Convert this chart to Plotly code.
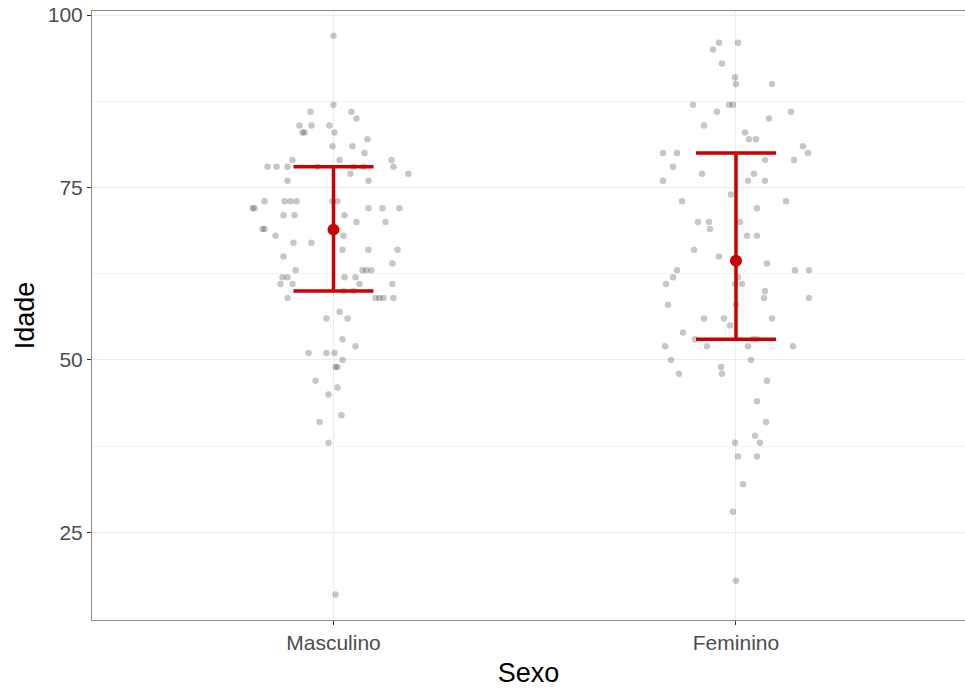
import plotly.graph_objects as go

# ---- data ----
categories = ["Masculino", "Feminino"]

masc_age = [97, 87, 86, 86, 85, 84, 84, 84, 83, 83, 83, 82, 81, 81, 80, 79, 79, 79,
            78, 78, 78, 78, 78, 78, 78, 77, 77, 76, 76,
            73, 73, 73, 73, 73, 73, 72, 72, 72, 72, 72, 71, 71, 71, 70, 70, 69, 69,
            68, 68, 67, 67, 66, 66, 66, 65, 64, 63, 63, 63, 63, 62, 62, 62, 62,
            61, 61, 61, 61, 60, 60, 59, 59, 59, 59, 59, 57, 56, 56, 53, 52,
            51, 51, 51, 50, 49, 49, 47, 46, 45, 42, 41, 38, 16]
# horizontal jitter, in pixels of the original picture
masc_jit_px = [0, 0, -23, 18, 23, -34, -22, -4, -31, -29, 1, 34, -1, 19, 31, -41, 6, 58,
               -66, -57, -46, -16, 20, 30, 60, 17, 75, -46, 35,
               -69, -49, -43, -37, -1, 4, -81, -79, 35, 49, 66, -50, -39, 11, 23, 52, -71, -69,
               -58, 10, -40, -22, 9, 35, 64, -50, 59, -38, 29, 33, 38, -51, -46, 11, 22,
               -53, -41, 26, 59, 10, 20, -46, 42, 46, 50, 60, 6, -7, 14, 9, 22,
               -25, -7, 1, 9, 2, 4, -18, 4, -5, 8, -14, -5, 2]

fem_age = [96, 96, 95, 93, 91, 90, 90, 87, 87, 87, 86, 86, 85, 84, 83, 82, 82, 81,
           80, 80, 80, 79, 79, 78, 77, 77, 76, 76, 76, 74, 73, 73, 72, 70, 70, 70, 69,
           68, 68, 66, 65, 64, 63, 63, 63, 62, 62, 61, 61, 61, 60, 59, 59, 58, 58,
           56, 56, 56, 55, 54, 53, 53, 53, 52, 52, 52, 52, 50, 50, 49, 48, 48, 47,
           44, 41, 39, 38, 38, 36, 36, 32, 28, 18]
fem_jit_px = [-17, 2, -23, -14, -1, 0, 36, -43, -7, -3, -19, 55, 33, -32, 9, 13, 20, 67,
              -73, -59, 72, 29, 58, -63, -34, 18, -73, 12, 29, -5, -54, 50, 21, -38, -27, 4, -26,
              11, 21, -42, -17, 31, -59, 59, 73, -63, 2, -70, -1, 6, 29, 28, 73, -68, 0,
              -32, -12, 36, -6, -53, -41, 17, 21, -71, -29, 12, 57, -65, 15, -15, -57, -14, 31,
              21, 30, 19, -1, 24, 2, 21, 7, -3, 0]

means = [68.9, 64.4]
lower = [60, 53]
upper = [78, 80]

PX_PER_CAT = 402.7

fig = go.Figure()

for i, (ages, jit) in enumerate([(masc_age, masc_jit_px), (fem_age, fem_jit_px)]):
    xs = [i + 1 + j / PX_PER_CAT for j in jit]
    fig.add_trace(go.Scatter(
        x=xs, y=ages, mode="markers",
        marker=dict(size=6.5, color="rgba(0,0,0,0.22)", line=dict(width=0)),
        showlegend=False, hoverinfo="y"))

fig.add_trace(go.Scatter(
    x=[1, 2], y=means, mode="markers",
    marker=dict(size=12, color="#CD0000"),
    error_y=dict(type="data", symmetric=False,
                 array=[u - m for u, m in zip(upper, means)],
                 arrayminus=[m - l for m, l in zip(means, lower)],
                 color="#CD0000", thickness=3.5, width=40),
    showlegend=False))

font_family = "Liberation Sans, Arial, sans-serif"

fig.update_layout(
    width=965, height=688,
    margin=dict(l=92, r=0, t=11, b=68, pad=0),
    paper_bgcolor="white", plot_bgcolor="white",
    font=dict(family=font_family),
    xaxis=dict(
        range=[0.4, 2.569], tickvals=[1, 2], ticktext=categories,
        showgrid=True, gridcolor="#ebebeb", gridwidth=1.1,
        showline=True, linecolor="#8c8c8c", linewidth=1, mirror=True,
        ticks="outside", ticklen=4, tickcolor="#333333", tickwidth=1,
        tickfont=dict(size=21, color="#4d4d4d"),
        title=dict(text="Sexo", font=dict(size=27, color="black"), standoff=10),
        zeroline=False, automargin=False),
    yaxis=dict(
        range=[12.3, 100.6], tickvals=[25, 50, 75, 100],
        showgrid=True, gridcolor="#ebebeb", gridwidth=1.1,
        minor=dict(tickvals=[12.5, 37.5, 62.5, 87.5], showgrid=True,
                   gridcolor="#f2f2f2", gridwidth=0.6, ticks=""),
        showline=True, linecolor="#8c8c8c", linewidth=1, mirror=False,
        ticks="outside", ticklen=4, tickcolor="#333333", tickwidth=1,
        tickfont=dict(size=21, color="#4d4d4d"), ticklabeloverflow="allow",
        title=dict(text="Idade", font=dict(size=27, color="black"), standoff=5),
        zeroline=False, automargin=False),
)

# remove the browser's default 8px body margin so the figure sits at the page corner
fig.write_html("out.html",
               config={"displayModeBar": False},
               post_script="document.body.style.margin='0';document.body.style.overflow='hidden';")
